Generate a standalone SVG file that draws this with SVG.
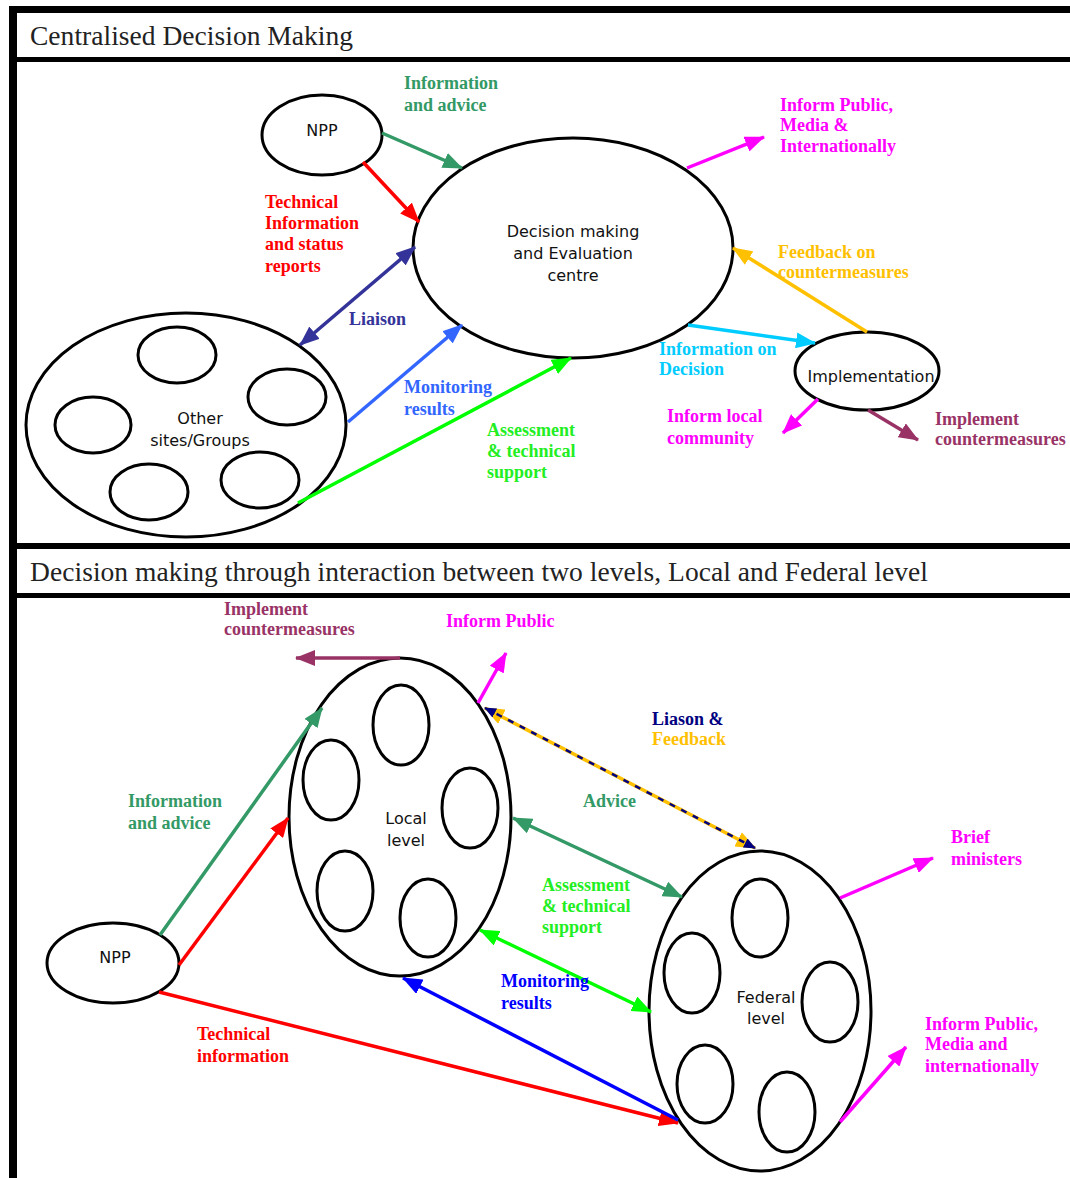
<svg xmlns="http://www.w3.org/2000/svg" width="1070" height="1178" viewBox="0 0 1070 1178">
<style>
.frame{fill:#000}
.nd{fill:#fff;stroke:#000;stroke-width:3}
.sub{fill:none;stroke:#000;stroke-width:3}
.nt{font-family:"DejaVu Sans",Verdana,sans-serif;font-size:16px;fill:#111;text-anchor:middle}
.title{font-family:"Liberation Serif","Times New Roman",serif;font-size:27.5px;fill:#222}
.lbl{font-family:"Liberation Serif","Times New Roman",serif;font-size:18px;font-weight:bold}
.c{fill:none;stroke-width:3.5}
</style>
<defs>
<marker id="a-sg" viewBox="0 0 20 16" refX="19" refY="8" markerWidth="20" markerHeight="16" markerUnits="userSpaceOnUse" orient="auto-start-reverse"><path d="M0,0 L20,8 L0,16 z" fill="#339966"/></marker>
<marker id="a-red" viewBox="0 0 20 16" refX="19" refY="8" markerWidth="20" markerHeight="16" markerUnits="userSpaceOnUse" orient="auto-start-reverse"><path d="M0,0 L20,8 L0,16 z" fill="#ff0000"/></marker>
<marker id="a-nv" viewBox="0 0 20 16" refX="19" refY="8" markerWidth="20" markerHeight="16" markerUnits="userSpaceOnUse" orient="auto-start-reverse"><path d="M0,0 L20,8 L0,16 z" fill="#333399"/></marker>
<marker id="a-lb" viewBox="0 0 20 16" refX="19" refY="8" markerWidth="20" markerHeight="16" markerUnits="userSpaceOnUse" orient="auto-start-reverse"><path d="M0,0 L20,8 L0,16 z" fill="#3366ff"/></marker>
<marker id="a-lm" viewBox="0 0 20 16" refX="19" refY="8" markerWidth="20" markerHeight="16" markerUnits="userSpaceOnUse" orient="auto-start-reverse"><path d="M0,0 L20,8 L0,16 z" fill="#00ff00"/></marker>
<marker id="a-mg" viewBox="0 0 20 16" refX="19" refY="8" markerWidth="20" markerHeight="16" markerUnits="userSpaceOnUse" orient="auto-start-reverse"><path d="M0,0 L20,8 L0,16 z" fill="#ff00ff"/></marker>
<marker id="a-yl" viewBox="0 0 20 16" refX="19" refY="8" markerWidth="20" markerHeight="16" markerUnits="userSpaceOnUse" orient="auto-start-reverse"><path d="M0,0 L20,8 L0,16 z" fill="#ffc000"/></marker>
<marker id="a-cy" viewBox="0 0 20 16" refX="19" refY="8" markerWidth="20" markerHeight="16" markerUnits="userSpaceOnUse" orient="auto-start-reverse"><path d="M0,0 L20,8 L0,16 z" fill="#00ccff"/></marker>
<marker id="a-mr" viewBox="0 0 20 16" refX="19" refY="8" markerWidth="20" markerHeight="16" markerUnits="userSpaceOnUse" orient="auto-start-reverse"><path d="M0,0 L20,8 L0,16 z" fill="#993366"/></marker>
<marker id="a-bl" viewBox="0 0 20 16" refX="19" refY="8" markerWidth="20" markerHeight="16" markerUnits="userSpaceOnUse" orient="auto-start-reverse"><path d="M0,0 L20,8 L0,16 z" fill="#0000ff"/></marker>
<marker id="a-nvs" viewBox="0 0 12 10" refX="11" refY="5" markerWidth="12" markerHeight="10" markerUnits="userSpaceOnUse" orient="auto-start-reverse"><path d="M0,0 L12,5 L0,10 z" fill="#000080"/></marker>
</defs>
<rect width="1070" height="1178" fill="#fff"/>
<g id="frame">
<rect class="frame" x="9" y="6" width="1061" height="7"/>
<rect class="frame" x="9" y="6" width="8" height="1172"/>
<rect class="frame" x="9" y="57" width="1061" height="5"/>
<rect class="frame" x="9" y="543" width="1061" height="6"/>
<rect class="frame" x="9" y="593" width="1061" height="5"/>
<text class="title" x="30" y="45" textLength="323">Centralised Decision Making</text>
<text class="title" x="30" y="581" textLength="898">Decision making through interaction between two levels, Local and Federal level</text>
</g>
<g id="npp-top"><ellipse class="nd" cx="322" cy="135" rx="60" ry="40"/><text class="nt" x="322" y="136">NPP</text></g>
<g id="decision-centre"><ellipse class="nd" cx="573" cy="248" rx="160" ry="110"/><text class="nt" x="573" y="237">Decision making</text><text class="nt" x="573" y="259">and Evaluation</text><text class="nt" x="573" y="281">centre</text></g>
<g id="implementation"><ellipse class="nd" cx="867" cy="371" rx="72" ry="39"/><text class="nt" x="871" y="382">Implementation</text></g>
<g id="other-sites"><ellipse class="nd" cx="186" cy="425" rx="160" ry="112"/>
<ellipse class="sub" cx="177" cy="355" rx="39" ry="28"/><ellipse class="sub" cx="287" cy="397" rx="39" ry="28"/><ellipse class="sub" cx="93" cy="425" rx="38" ry="28"/><ellipse class="sub" cx="149" cy="492" rx="39" ry="28"/><ellipse class="sub" cx="260" cy="480" rx="39" ry="28"/>
<text class="nt" x="200" y="424">Other</text><text class="nt" x="200" y="446">sites/Groups</text></g>
<g id="local-level"><ellipse class="nd" cx="400" cy="817" rx="111" ry="159"/>
<ellipse class="sub" cx="401" cy="725" rx="28" ry="40"/><ellipse class="sub" cx="331" cy="780" rx="28" ry="40"/><ellipse class="sub" cx="470" cy="808" rx="28" ry="40"/><ellipse class="sub" cx="345" cy="891" rx="28" ry="40"/><ellipse class="sub" cx="428" cy="918" rx="28" ry="39"/>
<text class="nt" x="406" y="824">Local</text><text class="nt" x="406" y="846">level</text></g>
<g id="federal-level"><ellipse class="nd" cx="760" cy="1011" rx="111" ry="160"/>
<ellipse class="sub" cx="760" cy="918" rx="28" ry="39"/><ellipse class="sub" cx="692" cy="973" rx="28" ry="40"/><ellipse class="sub" cx="830" cy="1002" rx="28" ry="40"/><ellipse class="sub" cx="705" cy="1084" rx="28" ry="39"/><ellipse class="sub" cx="787" cy="1112" rx="28" ry="40"/>
<text class="nt" x="766" y="1003">Federal</text><text class="nt" x="766" y="1024">level</text></g>
<g id="npp-bottom"><ellipse class="nd" cx="113" cy="963" rx="66" ry="40"/><text class="nt" x="115" y="963">NPP</text></g>
<g id="connectors">
<path class="c" stroke="#339966" d="M382,133 L462,168" marker-end="url(#a-sg)"/>
<path class="c" stroke="#ff0000" d="M363,162 L419,222" marker-end="url(#a-red)"/>
<path class="c" stroke="#333399" d="M300,345 L415,247" marker-start="url(#a-nv)" marker-end="url(#a-nv)"/>
<path class="c" stroke="#3366ff" d="M348,422 L462,325" marker-end="url(#a-lb)"/>
<path class="c" stroke="#00ff00" d="M298,503 L571,358" marker-end="url(#a-lm)"/>
<path class="c" stroke="#ff00ff" d="M687,168 L764,137" marker-end="url(#a-mg)"/>
<path class="c" stroke="#ffc000" d="M867,332 L733,248" marker-end="url(#a-yl)"/>
<path class="c" stroke="#00ccff" d="M688,325 L815,343" marker-end="url(#a-cy)"/>
<path class="c" stroke="#ff00ff" d="M818,399 L783,433" marker-end="url(#a-mg)"/>
<path class="c" stroke="#993366" d="M868,410 L918,440" marker-end="url(#a-mr)"/>
<path class="c" stroke="#993366" d="M400,658 L296,658" marker-end="url(#a-mr)"/>
<path class="c" stroke="#ff00ff" d="M478,703 L506,653" marker-end="url(#a-mg)"/>
<path class="c" stroke="#339966" d="M160,935 L322,708" marker-end="url(#a-sg)"/>
<path class="c" stroke="#ff0000" d="M179,965 L288,818" marker-end="url(#a-red)"/>
<path class="c" stroke="#ff0000" d="M159,992 L678,1123" marker-end="url(#a-red)"/>
<path class="c" stroke="#0000ff" d="M678,1120 L403,978" marker-end="url(#a-bl)"/>
<path class="c" stroke="#00ff00" d="M480,930 L651,1012" marker-start="url(#a-lm)" marker-end="url(#a-lm)"/>
<path class="c" stroke="#339966" d="M513,818 L682,897" marker-start="url(#a-sg)" marker-end="url(#a-sg)"/>
<path class="c" stroke="#ffc000" d="M485,708 L755,848" marker-start="url(#a-yl)" marker-end="url(#a-yl)"/>
<path fill="none" stroke="#000080" stroke-width="2.5" stroke-dasharray="6 7" d="M485,708 L755,848" marker-start="url(#a-nvs)" marker-end="url(#a-nvs)"/>
<path class="c" stroke="#ff00ff" d="M840,898 L933,858" marker-end="url(#a-mg)"/>
<path class="c" stroke="#ff00ff" d="M840,1122 L906,1047" marker-end="url(#a-mg)"/>
</g>
<g id="labels">
<text class="lbl" fill="#339966" x="404" y="89">Information</text>
<text class="lbl" fill="#339966" x="404" y="111">and advice</text>
<text class="lbl" fill="#ff0000" x="265" y="208">Technical</text>
<text class="lbl" fill="#ff0000" x="265" y="229">Information</text>
<text class="lbl" fill="#ff0000" x="265" y="250">and status</text>
<text class="lbl" fill="#ff0000" x="265" y="272">reports</text>
<text class="lbl" fill="#333399" x="349" y="325">Liaison</text>
<text class="lbl" fill="#3366ff" x="404" y="393">Monitoring</text>
<text class="lbl" fill="#3366ff" x="404" y="415">results</text>
<text class="lbl" fill="#22ee22" x="487" y="436">Assessment</text>
<text class="lbl" fill="#22ee22" x="487" y="457">&amp; technical</text>
<text class="lbl" fill="#22ee22" x="487" y="478">support</text>
<text class="lbl" fill="#ff00ff" x="780" y="111">Inform Public,</text>
<text class="lbl" fill="#ff00ff" x="780" y="131">Media &amp;</text>
<text class="lbl" fill="#ff00ff" x="780" y="152">Internationally</text>
<text class="lbl" fill="#ffc000" x="778" y="258">Feedback on</text>
<text class="lbl" fill="#ffc000" x="778" y="278">countermeasures</text>
<text class="lbl" fill="#00ccff" x="659" y="355">Information on</text>
<text class="lbl" fill="#00ccff" x="659" y="375">Decision</text>
<text class="lbl" fill="#ff00ff" x="667" y="422">Inform local</text>
<text class="lbl" fill="#ff00ff" x="667" y="444">community</text>
<text class="lbl" fill="#993366" x="935" y="425">Implement</text>
<text class="lbl" fill="#993366" x="935" y="445">countermeasures</text>
<text class="lbl" fill="#993366" x="224" y="615">Implement</text>
<text class="lbl" fill="#993366" x="224" y="635">countermeasures</text>
<text class="lbl" fill="#ff00ff" x="446" y="627">Inform Public</text>
<text class="lbl" fill="#000080" x="652" y="725">Liason &amp;</text>
<text class="lbl" fill="#ffc000" x="652" y="745">Feedback</text>
<text class="lbl" fill="#339966" x="583" y="807">Advice</text>
<text class="lbl" fill="#339966" x="128" y="807">Information</text>
<text class="lbl" fill="#339966" x="128" y="829">and advice</text>
<text class="lbl" fill="#ff00ff" x="951" y="843">Brief</text>
<text class="lbl" fill="#ff00ff" x="951" y="865">ministers</text>
<text class="lbl" fill="#22ee22" x="542" y="891">Assessment</text>
<text class="lbl" fill="#22ee22" x="542" y="912">&amp; technical</text>
<text class="lbl" fill="#22ee22" x="542" y="933">support</text>
<text class="lbl" fill="#0000ff" x="501" y="987">Monitoring</text>
<text class="lbl" fill="#0000ff" x="501" y="1009">results</text>
<text class="lbl" fill="#ff0000" x="197" y="1040">Technical</text>
<text class="lbl" fill="#ff0000" x="197" y="1062">information</text>
<text class="lbl" fill="#ff00ff" x="925" y="1030">Inform Public,</text>
<text class="lbl" fill="#ff00ff" x="925" y="1050">Media and</text>
<text class="lbl" fill="#ff00ff" x="925" y="1072">internationally</text>
</g>
</svg>
